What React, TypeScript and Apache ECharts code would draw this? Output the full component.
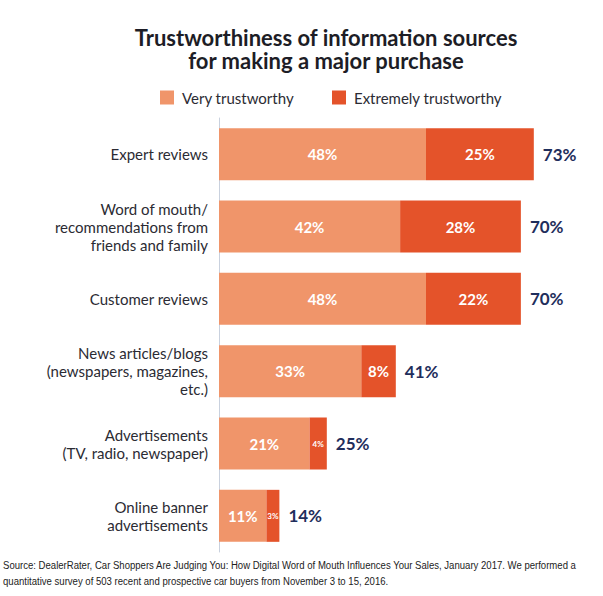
import React, { useEffect, useRef } from "react";
import * as echarts from "echarts";

const categories = [
  "Expert reviews",
  "Word of mouth/\nrecommendations from\nfriends and family",
  "Customer reviews",
  "News articles/blogs\n(newspapers, magazines,\netc.)",
  "Advertisements\n(TV, radio, newspaper)",
  "Online banner\nadvertisements",
];
const veryTrustworthy = [48, 42, 48, 33, 21, 11];
const extremelyTrustworthy = [25, 28, 22, 8, 4, 3];
const totals = [73, 70, 70, 41, 25, 14];
const seriesNames = ["Very trustworthy", "Extremely trustworthy"];
const titleLines = ["Trustworthiness of information sources", "for making a major purchase"];
const sourceText =
  "Source: DealerRater, Car Shoppers Are Judging You: How Digital Word of Mouth Influences Your Sales, January 2017. We performed a\nquantitative survey of 503 recent and prospective car buyers from November 3 to 15, 2016.";

const LIGHT = "#F0956A";
const DARK = "#E4532A";
const NAVY = "#1F2E5C";
const FONT = "Lato, 'Open Sans', sans-serif";

export default function App() {
  const ref = useRef<HTMLDivElement>(null);
  useEffect(() => {
    if (!ref.current) return;
    const chart = echarts.init(ref.current, undefined, { renderer: "svg" });
    const titleStyle = {
      fontFamily: FONT,
      fontSize: 22,
      fontWeight: "bold",
      color: "#1d1d26",
    };
    chart.setOption({
      animation: false,
      backgroundColor: "#ffffff",
      textStyle: { fontFamily: FONT },
      title: [
        { text: titleLines[0], left: 326, top: 26, textAlign: "center", padding: 0, textStyle: titleStyle },
        { text: titleLines[1], left: 326, top: 49, textAlign: "center", padding: 0, textStyle: titleStyle },
      ],
      legend: {
        data: seriesNames,
        left: 155,
        top: 85,
        icon: "rect",
        itemWidth: 14,
        itemHeight: 14,
        itemGap: 38,
        textStyle: { fontFamily: FONT, fontSize: 15, color: "#2b2b33", padding: [0, 0, 0, 3] },
      },
      grid: { left: 219, top: 118, width: 345, height: 434, containLabel: false },
      xAxis: { type: "value", min: 0, max: 80, show: false },
      yAxis: {
        type: "category",
        data: categories,
        inverse: true,
        axisLine: { show: true, lineStyle: { color: "#c9d1de", width: 1 } },
        axisTick: { show: false },
        axisLabel: {
          fontFamily: FONT,
          fontSize: 15,
          lineHeight: 18,
          color: "#2b2b33",
          margin: 11,
          align: "right",
        },
      },
      series: [
        {
          name: seriesNames[0],
          type: "bar",
          stack: "t",
          barWidth: 52,
          itemStyle: { color: LIGHT },
          label: {
            show: true,
            position: "inside",
            color: "#fff",
            fontWeight: "bold",
            fontSize: 15,
            fontFamily: FONT,
            formatter: "{c}%",
          },
          data: veryTrustworthy,
        },
        {
          name: seriesNames[1],
          type: "bar",
          stack: "t",
          barWidth: 52,
          itemStyle: { color: DARK },
          label: {
            show: true,
            position: "inside",
            color: "#fff",
            fontWeight: "bold",
            fontSize: 15,
            fontFamily: FONT,
            formatter: "{c}%",
          },
          data: extremelyTrustworthy.map((v) =>
            v < 5 ? { value: v, label: { fontSize: 8 } } : v
          ),
        },
        {
          name: "Total",
          type: "bar",
          barWidth: 52,
          barGap: "-100%",
          itemStyle: { color: "rgba(0,0,0,0)" },
          silent: true,
          label: {
            show: true,
            position: "right",
            distance: 9,
            color: NAVY,
            fontWeight: "bold",
            fontSize: 17,
            fontFamily: FONT,
            formatter: "{c}%",
          },
          data: totals,
          z: 1,
        },
      ],
      graphic: [
        {
          type: "text",
          x: 3,
          y: 557,
          scaleX: 0.87,
          style: {
            text: sourceText,
            fontFamily: "'Liberation Sans', sans-serif",
            fontSize: 11,
            lineHeight: 16,
            fill: "#222",
          },
        },
      ],
    });
    return () => chart.dispose();
  }, []);
  return (
    <div
      ref={ref}
      style={{ position: "fixed", left: 0, top: 0, width: 603, height: 596 }}
    />
  );
}
